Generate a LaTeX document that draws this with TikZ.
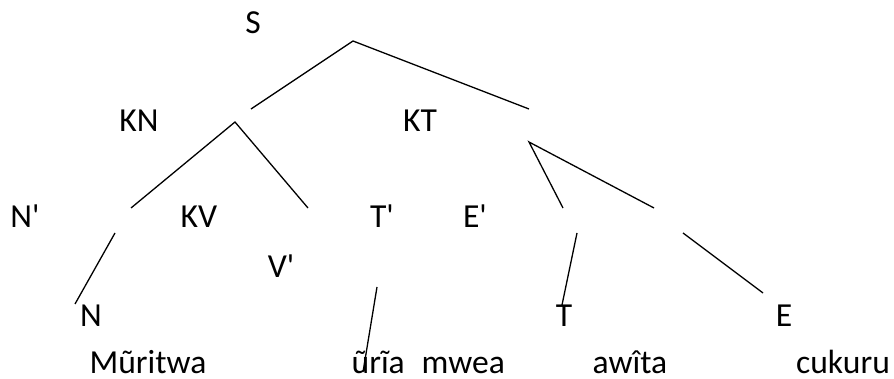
\documentclass[tikz,border=0pt]{standalone}
\usepackage{fontspec}
\setmainfont{Carlito}[Ligatures=TeXOff]
\usepackage{tikz}
\usetikzlibrary{positioning,calc}

\begin{document}
\begin{tikzpicture}[x=0.5pt,y=-0.5pt,
    lab/.style={inner sep=0pt, anchor=base, font=\fontsize{16.8}{20}\selectfont},
    word/.style={lab},
    every path/.style={line width=0.65pt}]
    \useasboundingbox (0,0) rectangle (894,379);

    % labels
    \node[lab] (s) at (253,34) {S};
    \node[lab] (kn) at (139,132) {KN};
    \node[lab] (kt) at (420,132) {KT};
    \node[lab] (n1) at (25,228) {N'};
    \node[lab] (kv) at (199,228) {KV};
    \node[lab] (t1) at (382,228) {T'};
    \node[lab] (e1) at (475,228) {E'};
    \node[lab] (v1) at (281,278) {V'};
    \node[lab] (n) at (91,327) {N};
    \node[lab] (t) at (564,327) {T};
    \node[lab] (e) at (784,327) {E};

    % words
    \node[word] (w1) at (148,373) {Mũritwa};
    \node[word, anchor=base west] (w2) at (351,373) {ũrĩa};
    \node[word, anchor=base west] (w3) at (421,373) {mwea};
    \node[word] (w4) at (630,373) {awîta};
    \node[word] (w5) at (843,373) {cukuru};

    % branches
    \coordinate (A) at (353,41);
    \coordinate (B) at (251,109);
    \coordinate (C) at (529,109);
    \draw (B) -- (A) -- (C);
    \coordinate (D) at (235,122);
    \coordinate (F) at (131,208);
    \coordinate (G) at (308,208);
    \draw (F) -- (D) -- (G);
    \coordinate (H) at (115,233);
    \coordinate (I) at (75,304);
    \draw (H) -- (I);
    \coordinate (J) at (377,287);
    \coordinate (K) at (363,372);
    \draw (J) -- (K);
    \coordinate (L) at (529,142);
    \coordinate (M) at (563,208);
    \coordinate (P) at (654,208);
    \draw (M) -- (L) -- (P);
    \coordinate (Q) at (577,233);
    \coordinate (R) at (562,305);
    \draw (Q) -- (R);
    \coordinate (U) at (683,233);
    \coordinate (W) at (763,293);
    \draw (U) -- (W);
\end{tikzpicture}
\end{document}
